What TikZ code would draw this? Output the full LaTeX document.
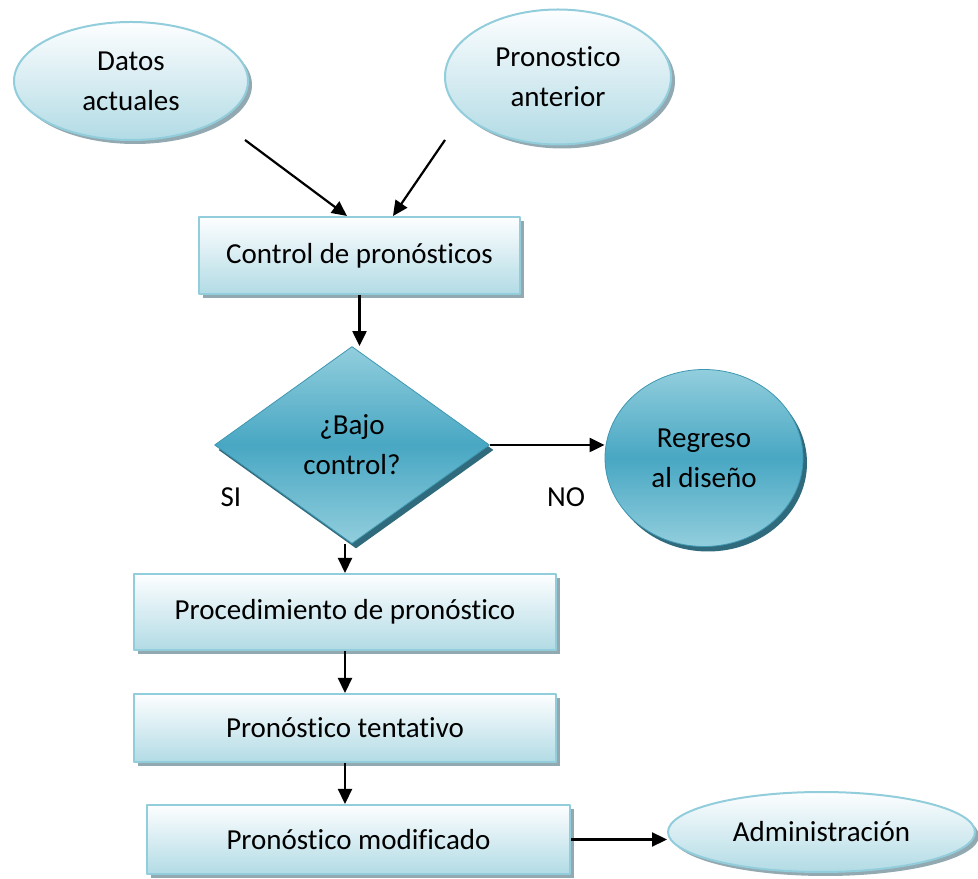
\documentclass[tikz,border=0pt]{standalone}
\usepackage{fontspec}
\setmainfont{Carlito}[Ligatures={NoCommon}]
\usetikzlibrary{shapes.geometric,shadows,arrows.meta}
\definecolor{lightedge}{HTML}{92CDDC}
\definecolor{lighttop}{HTML}{FDFEFF}
\definecolor{lightbottom}{HTML}{B2DBE5}
\definecolor{lightshadow}{HTML}{93A9B1}
\definecolor{darkouter}{HTML}{92CEDD}
\definecolor{darkmid}{HTML}{48A7C3}
\definecolor{darkline}{HTML}{3F97B1}
\definecolor{darkshadow}{HTML}{2F6B7D}
\begin{document}
\begin{tikzpicture}[>={Triangle[length=15bp,width=14bp]},line join=bevel,
  every node/.style={font=\fontsize{29bp}{40bp}\selectfont,align=center},
  lightbox/.style={rectangle,draw=lightedge,line width=2bp,top color=lighttop,bottom color=lightbottom,
    drop shadow={shadow xshift=4bp,shadow yshift=-4bp,opacity=1,fill=lightshadow}},
  lightoval/.style={lightbox,ellipse,inner sep=0pt},
  darkshape/.style={draw=darkline,line width=0.8bp,top color=darkouter,bottom color=darkouter,middle color=darkmid,
    inner sep=0pt,drop shadow={shadow xshift=4bp,shadow yshift=-5bp,opacity=1,fill=darkshadow}},
  flow/.style={->,line width=2.2bp}]
\useasboundingbox (0bp,0bp) rectangle (978bp,879bp);
%%
\node (datos) at (131bp,798bp) [lightoval,minimum width=234bp,minimum height=118bp] {Datos\\actuales};
  \node (anterior) at (558bp,802bp) [lightoval,minimum width=226bp,minimum height=135bp] {Pronostico\\anterior};
  \node (control) at (359.5bp,623.5bp) [lightbox,minimum width=321bp,minimum height=77bp] {Control de pronósticos};
  \node (bajo) at (352bp,434bp) [darkshape,diamond,minimum width=275bp,minimum height=197bp] {¿Bajo\\control?};
  \node (regreso) at (704bp,421bp) [darkshape,ellipse,minimum width=198bp,minimum height=177bp] {Regreso\\al diseño};
  \node (si) at (231bp,382bp) {SI};
  \node (no) at (566bp,382bp) {NO};
  \node (procedimiento) at (345bp,267bp) [lightbox,minimum width=422bp,minimum height=76bp] {Procedimiento de pronóstico};
  \node (tentativo) at (345bp,151bp) [lightbox,minimum width=422bp,minimum height=68bp] {Pronóstico tentativo};
  \node (modificado) at (358.5bp,39.5bp) [lightbox,minimum width=423bp,minimum height=69bp] {Pronóstico modificado};
  \node (admin) at (821.5bp,47bp) [lightoval,minimum width=307bp,minimum height=80bp] {Administración};
  \coordinate (datos-out) at (245bp,739bp);
  \coordinate (anterior-out) at (445bp,739bp);
  \draw [flow] (datos-out) -- ([xshift=-12.5bp]control.north);
  \draw [flow] (anterior-out) -- ([xshift=33.5bp]control.north);
  \draw [flow] (control.south) -- (control.south |- bajo.north);
  \draw [flow] (bajo.east) -- (bajo.east -| regreso.west);
  \draw [flow] (bajo.south -| procedimiento.north) -- (procedimiento.north);
  \draw [flow] (procedimiento.south) -- (tentativo.north);
  \draw [flow] (tentativo.south) -- (tentativo.south |- modificado.north);
  \draw [flow] (modificado.east) -- (modificado.east -| admin.west);
%
\end{tikzpicture}
\end{document}
